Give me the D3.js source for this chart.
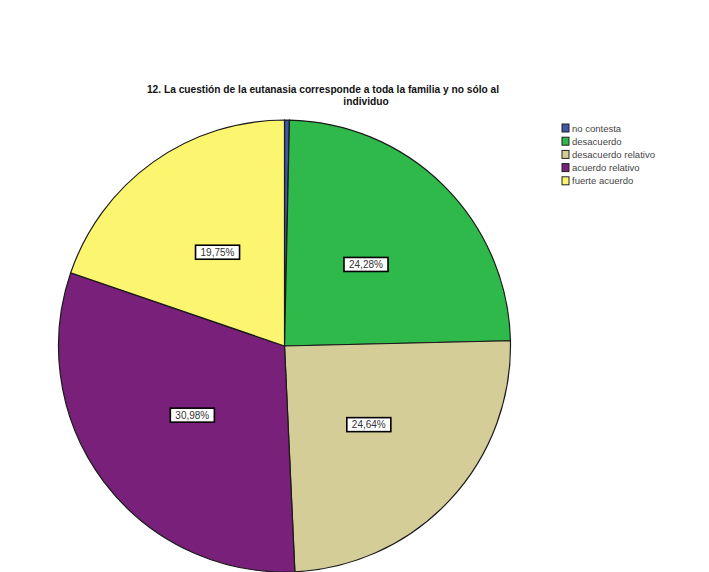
<!DOCTYPE html>
<html>
<head>
<meta charset="utf-8">
<script src="https://cdn.jsdelivr.net/npm/d3@7"></script>
<style>
  html, body { margin: 0; padding: 0; background: #fff; }
  svg { display: block; }
</style>
</head>
<body>
<script>
const categories = ["no contesta", "desacuerdo", "desacuerdo relativo", "acuerdo relativo", "fuerte acuerdo"];
const percentages = [0.35, 24.28, 24.64, 30.98, 19.75];
const labels = ["", "24,28%", "24,64%", "30,98%", "19,75%"];
const colors = ["#3D56A8", "#2FB94A", "#D4CD98", "#78207A", "#FBF56F"];
const titleLines = ["12. La cuestión de la eutanasia corresponde a toda la familia y no sólo al", "individuo"];

const W = 709, H = 572;
const svg = d3.select("body").append("svg").attr("width", W).attr("height", H);

// Title
svg.append("text").attr("x", 323).attr("y", 93)
  .attr("text-anchor", "middle")
  .attr("font-family", "Liberation Sans, Arial, sans-serif")
  .attr("font-weight", "bold").attr("font-size", 10.2).attr("fill", "#111")
  .text(titleLines[0]);
svg.append("text").attr("x", 366).attr("y", 105)
  .attr("text-anchor", "middle")
  .attr("font-family", "Liberation Sans, Arial, sans-serif")
  .attr("font-weight", "bold").attr("font-size", 10.2).attr("fill", "#111")
  .text(titleLines[1]);

// Pie
const cx = 284.5, cy = 346, R = 226;
const data = categories.map((c, i) => ({ cat: c, value: percentages[i], label: labels[i], color: colors[i] }));
const pie = d3.pie().value(d => d.value).sort(null);
const arc = d3.arc().innerRadius(0).outerRadius(R);
const labelArc = d3.arc().innerRadius(R * 0.51).outerRadius(R * 0.51);

const g = svg.append("g").attr("transform", `translate(${cx},${cy})`);
const arcs = pie(data);
g.selectAll("path").data(arcs).enter().append("path")
  .attr("d", arc)
  .attr("fill", d => d.data.color)
  .attr("stroke", "#1a1a1a").attr("stroke-width", 1.2);

const lg = g.selectAll("g.lbl").data(arcs.filter(d => d.data.label)).enter().append("g")
  .attr("class", "lbl")
  .attr("transform", d => `translate(${labelArc.centroid(d)})`);
lg.each(function(d) {
  const sel = d3.select(this);
  const t = sel.append("text").attr("text-anchor", "middle").attr("dy", "0.35em")
    .attr("font-family", "Liberation Sans, Arial, sans-serif").attr("font-size", 10).attr("fill", "#333")
    .text(d.data.label);
  const bb = t.node().getBBox();
  sel.insert("rect", "text")
    .attr("x", bb.x - 5).attr("y", -7)
    .attr("width", bb.width + 10).attr("height", 14)
    .attr("fill", "#fff").attr("stroke", "#000").attr("stroke-width", 1.6);
});

// Legend
const legend = svg.append("g").attr("transform", "translate(562,124)");
const rowH = 13.2;
const items = legend.selectAll("g").data(data).enter().append("g")
  .attr("transform", (d, i) => `translate(0,${i * rowH})`);
items.append("rect").attr("width", 7).attr("height", 8)
  .attr("fill", d => d.color).attr("stroke", "#222").attr("stroke-width", 1);
items.append("text").attr("x", 10).attr("y", 7.5)
  .attr("font-family", "Liberation Sans, Arial, sans-serif").attr("font-size", 9.5).attr("fill", "#444")
  .text(d => d.cat);
</script>
</body>
</html>
